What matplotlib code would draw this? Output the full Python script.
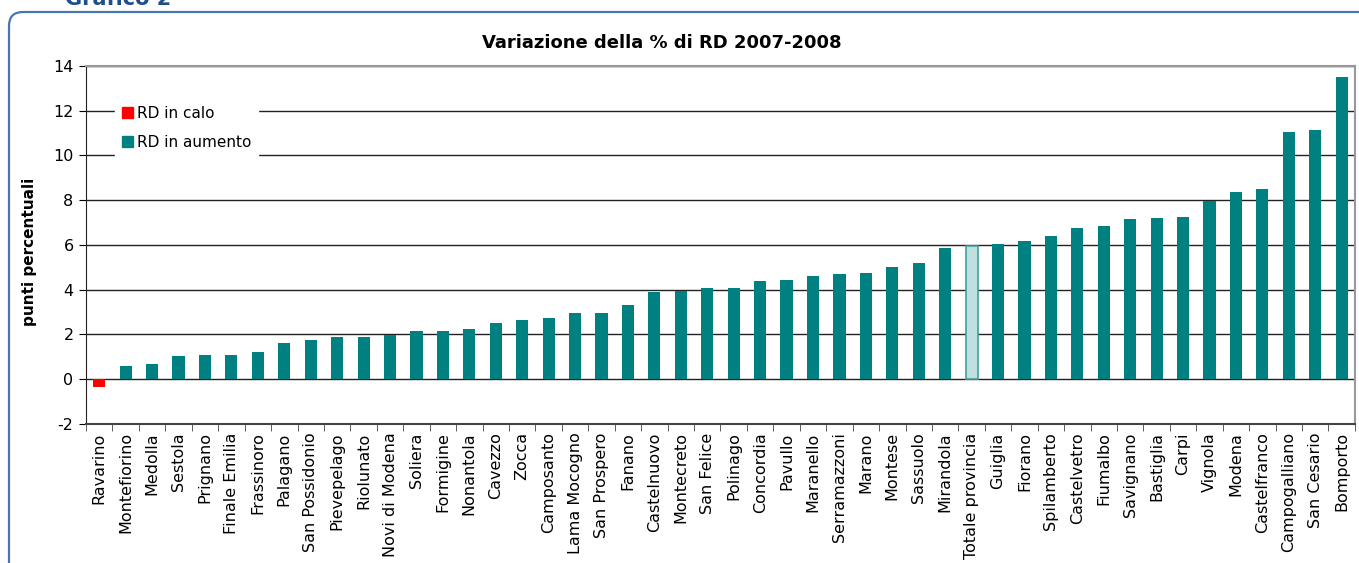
import numpy as np
import matplotlib.pyplot as plt
from matplotlib.patches import FancyBboxPatch, Patch
from matplotlib.transforms import IdentityTransform

# Comuni della provincia di Modena, ordinati per variazione
comuni = ['Ravarino', 'Montefiorino', 'Medolla', 'Sestola', 'Prignano',
          'Finale Emilia', 'Frassinoro', 'Palagano', 'San Possidonio',
          'Pievepelago', 'Riolunato', 'Novi di Modena', 'Soliera', 'Formigine',
          'Nonantola', 'Cavezzo', 'Zocca', 'Camposanto', 'Lama Mocogno',
          'San Prospero', 'Fanano', 'Castelnuovo', 'Montecreto', 'San Felice',
          'Polinago', 'Concordia', 'Pavullo', 'Maranello', 'Serramazzoni',
          'Marano', 'Montese', 'Sassuolo', 'Mirandola', 'Totale provincia',
          'Guiglia', 'Fiorano', 'Spilamberto', 'Castelvetro', 'Fiumalbo',
          'Savignano', 'Bastiglia', 'Carpi', 'Vignola', 'Modena',
          'Castelfranco', 'Campogalliano', 'San Cesario', 'Bomporto']
variazione = [-0.33, 0.60, 0.69, 1.04, 1.09, 1.09, 1.22, 1.63, 1.76,
              1.90, 1.90, 1.97, 2.17, 2.17, 2.26, 2.52, 2.66, 2.72, 2.95,
              2.95, 3.34, 3.88, 3.93, 4.07, 4.07, 4.38, 4.43, 4.61, 4.70,
              4.74, 5.01, 5.19, 5.86, 5.95, 6.06, 6.16, 6.38, 6.74, 6.83,
              7.14, 7.19, 7.23, 7.98, 8.35, 8.49, 11.04, 11.13, 13.52]
totale = 'Totale provincia'

teal = '#008080'
red = '#FF0000'

plt.rcParams['font.family'] = 'DejaVu Sans'
plt.rcParams['axes.unicode_minus'] = False

fig = plt.figure(figsize=(13.59, 5.63), dpi=100)
ax = fig.add_axes([0.0633, 0.2469, 0.9337, 0.6359])

x = np.arange(len(comuni))
for i, (c, v) in enumerate(zip(comuni, variazione)):
    if c == totale:
        ax.bar(i, v, width=0.46, color='#C0E0E0', edgecolor='#40A0A0', lw=1.2, zorder=3)
    elif v < 0:
        ax.bar(i, v, width=0.46, color=red, zorder=3)
    else:
        ax.bar(i, v, width=0.46, color=teal, zorder=3)

ax.set_xlim(-0.5, len(comuni) - 0.5)
ax.set_ylim(-2, 14)
ax.set_yticks(np.arange(-2, 15, 2))
ax.yaxis.grid(True, color='#222222', lw=1.0)
ax.set_axisbelow(True)

ax.set_xticks(x)
ax.set_xticklabels(comuni, rotation=90, fontsize=11.5)
ax.set_xticks(np.arange(-0.5, len(comuni), 1), minor=True)
ax.tick_params(axis='x', which='major', length=0, pad=6)
ax.tick_params(axis='x', which='minor', length=5, color='#444444')
ax.tick_params(axis='y', length=5, labelsize=11.5, pad=4)

for s in ['top', 'right']:
    ax.spines[s].set_color('#999999')
    ax.spines[s].set_linewidth(1.5)
ax.spines['left'].set_color('#222222')
ax.spines['bottom'].set_color('#444444')
ax.spines['bottom'].set_linewidth(1.5)

ax.set_ylabel('punti percentuali', fontsize=11, fontweight='bold')
ax.yaxis.set_label_coords(-0.039, 0.48)

fig.text(662 / 1359, 1 - 43 / 563, 'Variazione della % di RD 2007-2008',
         ha='center', va='center', fontsize=13, fontweight='bold')

handles = [Patch(color=red, label='RD in calo'), Patch(color=teal, label='RD in aumento')]
leg = ax.legend(handles=handles, loc='upper left', bbox_to_anchor=(0.017, 0.93),
                fontsize=11, frameon=True, fancybox=False, framealpha=1,
                edgecolor='white', handlelength=0.7, handleheight=0.7,
                handletextpad=0.25, labelspacing=0.95, borderpad=0.45)

# cornice arrotondata del riquadro
frame = FancyBboxPatch((9, -30), 1400, 563 - 12 + 30,
                       boxstyle='round,pad=0,rounding_size=14',
                       transform=IdentityTransform(), fill=False,
                       edgecolor='#4A76AE', lw=1.6)
fig.add_artist(frame)
fig.text(65 / 1359, 1 - 5 / 563, 'Grafico 2', ha='left', va='baseline',
         fontsize=15, fontweight='bold', color='#1F4E8C')

fig.savefig('out.png', dpi=100)
